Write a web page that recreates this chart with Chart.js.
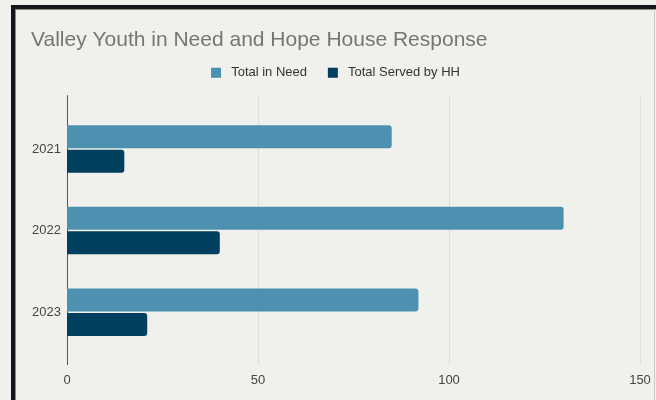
<!DOCTYPE html>
<html>
<head>
<meta charset="utf-8">
<script src="https://cdn.jsdelivr.net/npm/chart.js@4"></script>
<style>
  html, body { margin: 0; padding: 0; background: #f0f1ed; }
  #wrap { position: relative; width: 656px; height: 400px; overflow: hidden; }
  #frame {
    position: absolute; left: 11px; top: 5px; width: 700px; height: 450px;
    border-left: 4px solid #15161a; border-top: 4px solid #15161a;
    box-shadow: inset 1px 1px 0 #8a8a8a;
  }
  #edge { position: absolute; left: 654px; top: 9px; width: 1px; height: 400px; background: #c8c8c8; }
  canvas { position: absolute; left: 0; top: 0; }
</style>
</head>
<body>
<div id="wrap">
  <div id="frame"></div>
  <div id="edge"></div>
  <canvas id="hhChart" width="656" height="400"></canvas>
</div>
<script>
const years = ["2021", "2022", "2023"];
const totalInNeed = [85, 130, 92];
const totalServed = [15, 40, 21];
const xTicks = [0, 50, 100, 150];

// vertical grid lines reach a bit past the bars, like the sheets chart
const longGrid = {
  id: "longGrid",
  beforeDatasetsDraw(chart) {
    const { ctx, chartArea, scales } = chart;
    const top = chartArea.top - 13;
    const bottom = chartArea.bottom + 12;
    ctx.save();
    ctx.lineWidth = 1;
    xTicks.forEach((v) => {
      const x = Math.round(scales.x.getPixelForValue(v)) + 0.5;
      ctx.strokeStyle = v === 0 ? "#555555" : "#dedfdc";
      ctx.beginPath();
      ctx.moveTo(x, top);
      ctx.lineTo(x, bottom);
      ctx.stroke();
    });
    ctx.restore();
  },
};

// extra room under the legend
const legendSpacer = {
  id: "legendSpacer",
  beforeInit(chart) {
    const fit = chart.legend.fit;
    chart.legend.fit = function () {
      fit.call(this);
      this.height += 19;
    };
  },
};

new Chart(document.getElementById("hhChart"), {
  type: "bar",
  data: {
    labels: years,
    datasets: [
      {
        label: "Total in Need",
        data: totalInNeed,
        backgroundColor: "#4d91b0",
        borderRadius: 3,
        borderSkipped: "start",
        categoryPercentage: 0.6,
        barPercentage: 0.94,
      },
      {
        label: "Total Served by HH",
        data: totalServed,
        backgroundColor: "#003f5e",
        borderRadius: 3,
        borderSkipped: "start",
        categoryPercentage: 0.6,
        barPercentage: 0.94,
      },
    ],
  },
  options: {
    indexAxis: "y",
    responsive: false,
    animation: false,
    layout: { padding: { left: 31, right: 16, top: 16, bottom: 12 } },
    plugins: {
      title: {
        display: true,
        text: "Valley Youth in Need and Hope House Response",
        align: "start",
        color: "#757575",
        font: { family: "Liberation Sans", size: 21, weight: "normal" },
        padding: { top: 12, bottom: 3 },
      },
      legend: {
        position: "top",
        labels: {
          color: "#333333",
          font: { family: "Liberation Sans", size: 13 },
          boxWidth: 10,
          boxHeight: 10,
          padding: 10,
          // a little more air between box and text, and between items
          generateLabels: (chart) => {
            const items = Chart.defaults.plugins.legend.labels.generateLabels(chart);
            items.forEach((item, i) => {
              item.text = " " + item.text + (i < items.length - 1 ? "   " : "");
            });
            return items;
          },
        },
      },
      tooltip: { enabled: false },
    },
    scales: {
      x: {
        min: 0,
        max: 150,
        afterBuildTicks: (axis) => {
          axis.ticks = xTicks.map((v) => ({ value: v }));
        },
        afterFit: (axis) => {
          axis.height = 35;
          axis.paddingLeft = 0;
          axis.paddingRight = 0;
        },
        grid: { display: false, drawTicks: false },
        border: { display: false },
        ticks: {
          color: "#444444",
          padding: 20,
          font: { family: "Liberation Sans", size: 13 },
        },
      },
      y: {
        afterFit: (axis) => {
          axis.width = 36;
        },
        grid: { display: false, drawTicks: false },
        border: { display: false },
        ticks: {
          color: "#444444",
          padding: 6,
          font: { family: "Liberation Sans", size: 13 },
        },
      },
    },
  },
  plugins: [longGrid, legendSpacer],
});
</script>
</body>
</html>
